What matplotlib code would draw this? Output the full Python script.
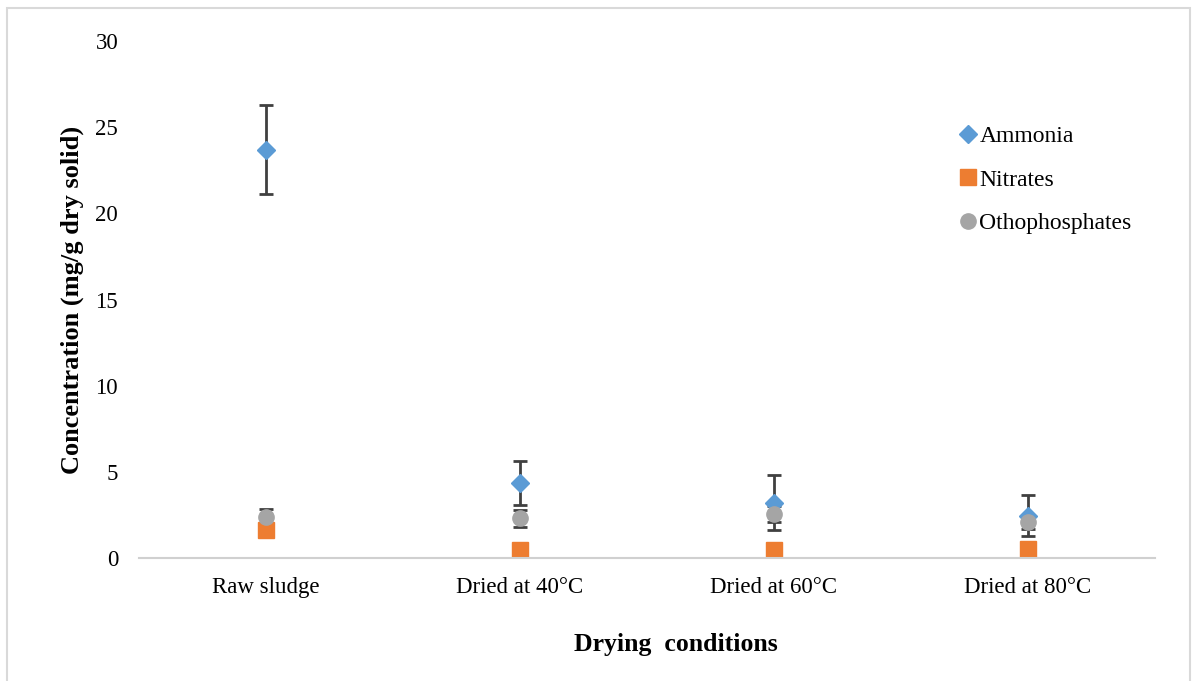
import numpy as np
import matplotlib
matplotlib.use("Agg")
import matplotlib.pyplot as plt
from matplotlib.patches import Rectangle

plt.rcParams['font.family'] = ['Liberation Serif', 'DejaVu Serif']

categories = ['Raw sludge', 'Dried at 40°C', 'Dried at 60°C', 'Dried at 80°C']
ammonia = [23.7, 4.35, 3.2, 2.45]
ammonia_err = [2.6, 1.3, 1.6, 1.2]
nitrates = [1.6, 0.45, 0.45, 0.5]
nitrates_err = [0.1, 0.05, 0.05, 0.05]
ortho = [2.4, 2.3, 2.55, 2.1]
ortho_err = [0.45, 0.5, 0.45, 0.4]

x = np.arange(1, len(categories) + 1)

fig = plt.figure(figsize=(11.97, 6.81), dpi=100)
fig.patches.append(Rectangle((7/1197, -0.05), (1190-7)/1197, 1.05 - 8/681,
                             transform=fig.transFigure, fill=False,
                             edgecolor='#D9D9D9', lw=1.5))
ax = fig.add_axes([139/1197, 1-558/681, (1155-139)/1197, (558-41)/681])

ebkw = dict(ecolor='#404040', elinewidth=2, capsize=5, capthick=2, linestyle='none')
ax.errorbar(x, ammonia, yerr=ammonia_err, marker='D', ms=9, color='#5B9BD5',
            mec='#5B9BD5', label='Ammonia', **ebkw)
ax.errorbar(x, nitrates, yerr=nitrates_err, marker='s', ms=11, color='#ED7D31',
            mec='#ED7D31', label='Nitrates', **ebkw)
ax.errorbar(x, ortho, yerr=ortho_err, marker='o', ms=11, color='#A5A5A5',
            mec='#A5A5A5', label='Othophosphates', **ebkw)

ax.set_xlim(0.5, 4.5)
ax.set_ylim(0, 30)
ax.set_yticks(range(0, 31, 5))
ax.set_xticks(x)
ax.set_xticklabels(categories)
ax.tick_params(axis='both', length=0, labelsize=16.5, colors='black')
ax.tick_params(axis='y', pad=15)
ax.tick_params(axis='x', pad=14)
for s in ['top', 'right', 'left']:
    ax.spines[s].set_visible(False)
ax.spines['bottom'].set_color('#D0D0D0')
ax.spines['bottom'].set_linewidth(1.5)

ax.set_ylabel('Concentration (mg/g dry solid)', fontsize=19, fontweight='bold')
ax.yaxis.set_label_coords(-55/1016, 0.5)
ax.set_xlabel('Drying  conditions', fontsize=18.5, fontweight='bold')
ax.xaxis.set_label_coords(0.5 + 29/1016, -75/517)

handles, labels = ax.get_legend_handles_labels()
handles = [h[0] for h in handles]
ax.legend(handles, labels, loc='upper left', bbox_to_anchor=(0.783, 0.877),
          frameon=False, fontsize=17, handletextpad=0.0, handlelength=1.0,
          labelspacing=0.92, markerscale=1.0)

fig.savefig('out.png', dpi=100)
